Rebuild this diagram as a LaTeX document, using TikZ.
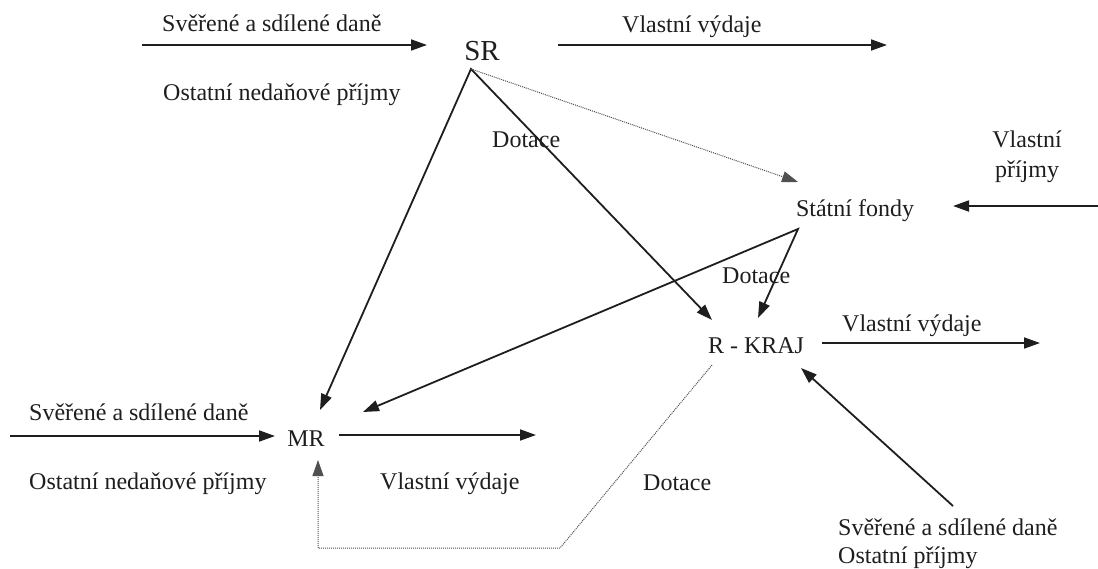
\documentclass[tikz,border=0pt]{standalone}
\usepackage{fontspec}
\setmainfont{Liberation Serif}
\usetikzlibrary{arrows.meta}
\definecolor{ink}{RGB}{30,30,30}
\definecolor{dots}{RGB}{80,80,80}

\begin{document}
\begin{tikzpicture}[x=1pt,y=-1pt,>={Triangle[length=16pt,width=11pt]}]
\tikzstyle{txt}=[inner sep=0pt, anchor=base west, text=ink, font=\fontsize{24}{28}\selectfont]
\tikzstyle{level}=[inner sep=0pt, anchor=base, text=ink, font=\fontsize{24}{28}\selectfont]
\tikzstyle{flow}=[->, draw=ink, line width=1.8pt]
\tikzstyle{weak}=[->, draw=dots, line width=1pt, dash pattern=on 1pt off 1pt]

\useasboundingbox (0,0) rectangle (1098,568);

\node[level, font=\fontsize{29}{32}\selectfont] (SR) at (482,60) {SR};
\node[level] (SF) at (855,216) {Státní fondy};
\node[level] (KRAJ) at (756,353) {R - KRAJ};
\node[level] (MR) at (306,446) {MR};

\coordinate (sr-in) at (142,45);
\coordinate (sr-inend) at (427,45);
\coordinate (sr-outstart) at (558,45);
\coordinate (sr-out) at (887,45);
\coordinate (sr-foot) at (471,69);
\coordinate (sf-head) at (798,182);
\coordinate (sf-in) at (1098,206);
\coordinate (sf-inend) at (953,206);
\coordinate (sf-foot) at (798,229);
\coordinate (kraj-head1) at (712,320);
\coordinate (kraj-head2) at (758,318);
\coordinate (kraj-head3) at (801,368);
\coordinate (kraj-in) at (953,506);
\coordinate (kraj-outstart) at (822,343);
\coordinate (kraj-out) at (1040,343);
\coordinate (kraj-foot) at (712,365);
\coordinate (mr-head1) at (320,410);
\coordinate (mr-head2) at (363,412);
\coordinate (mr-head3) at (318,460);
\coordinate (mr-in) at (10,436);
\coordinate (mr-inend) at (275,436);
\coordinate (mr-outstart) at (339,435);
\coordinate (mr-out) at (536,435);
\coordinate (loop-a) at (560,548);
\coordinate (loop-b) at (318,548);

\draw[flow] (sr-in) -- (sr-inend);
\draw[flow] (sr-outstart) -- (sr-out);
\draw[flow, <->] (mr-head1) -- (sr-foot) -- (kraj-head1);
\draw[weak] (sr-foot) -- (sf-head);
\draw[flow] (sf-in) -- (sf-inend);
\draw[flow, <->] (mr-head2) -- (sf-foot) -- (kraj-head2);
\draw[flow] (kraj-outstart) -- (kraj-out);
\draw[flow] (kraj-in) -- (kraj-head3);
\draw[flow] (mr-in) -- (mr-inend);
\draw[flow] (mr-outstart) -- (mr-out);
\draw[weak] (kraj-foot) -- (loop-a) -- (loop-b) -- (mr-head3);

\node[txt] (sr-tax) at (162,31) {Svěřené a sdílené daně};
\node[txt] (sr-other) at (163,100) {Ostatní nedaňové příjmy};
\node[txt] (sr-spend) at (622,32) {Vlastní výdaje};
\node[txt] (sr-grant) at (492,147) {Dotace};
\node[txt, anchor=north, align=center, font=\fontsize{24}{30}\selectfont] (sf-own) at (1027,131) {Vlastní\\příjmy};
\node[txt] (sf-grant) at (722,283) {Dotace};
\node[txt] (kraj-spend) at (842,331) {Vlastní výdaje};
\node[txt, anchor=north west, align=left] (kraj-tax) at (838,519) {Svěřené a sdílené daně\\Ostatní příjmy};
\node[txt] (mr-tax) at (29,420) {Svěřené a sdílené daně};
\node[txt] (mr-other) at (29,489) {Ostatní nedaňové příjmy};
\node[txt] (mr-spend) at (380,489) {Vlastní výdaje};
\node[txt] (mr-grant) at (643,490) {Dotace};
\end{tikzpicture}
\end{document}
